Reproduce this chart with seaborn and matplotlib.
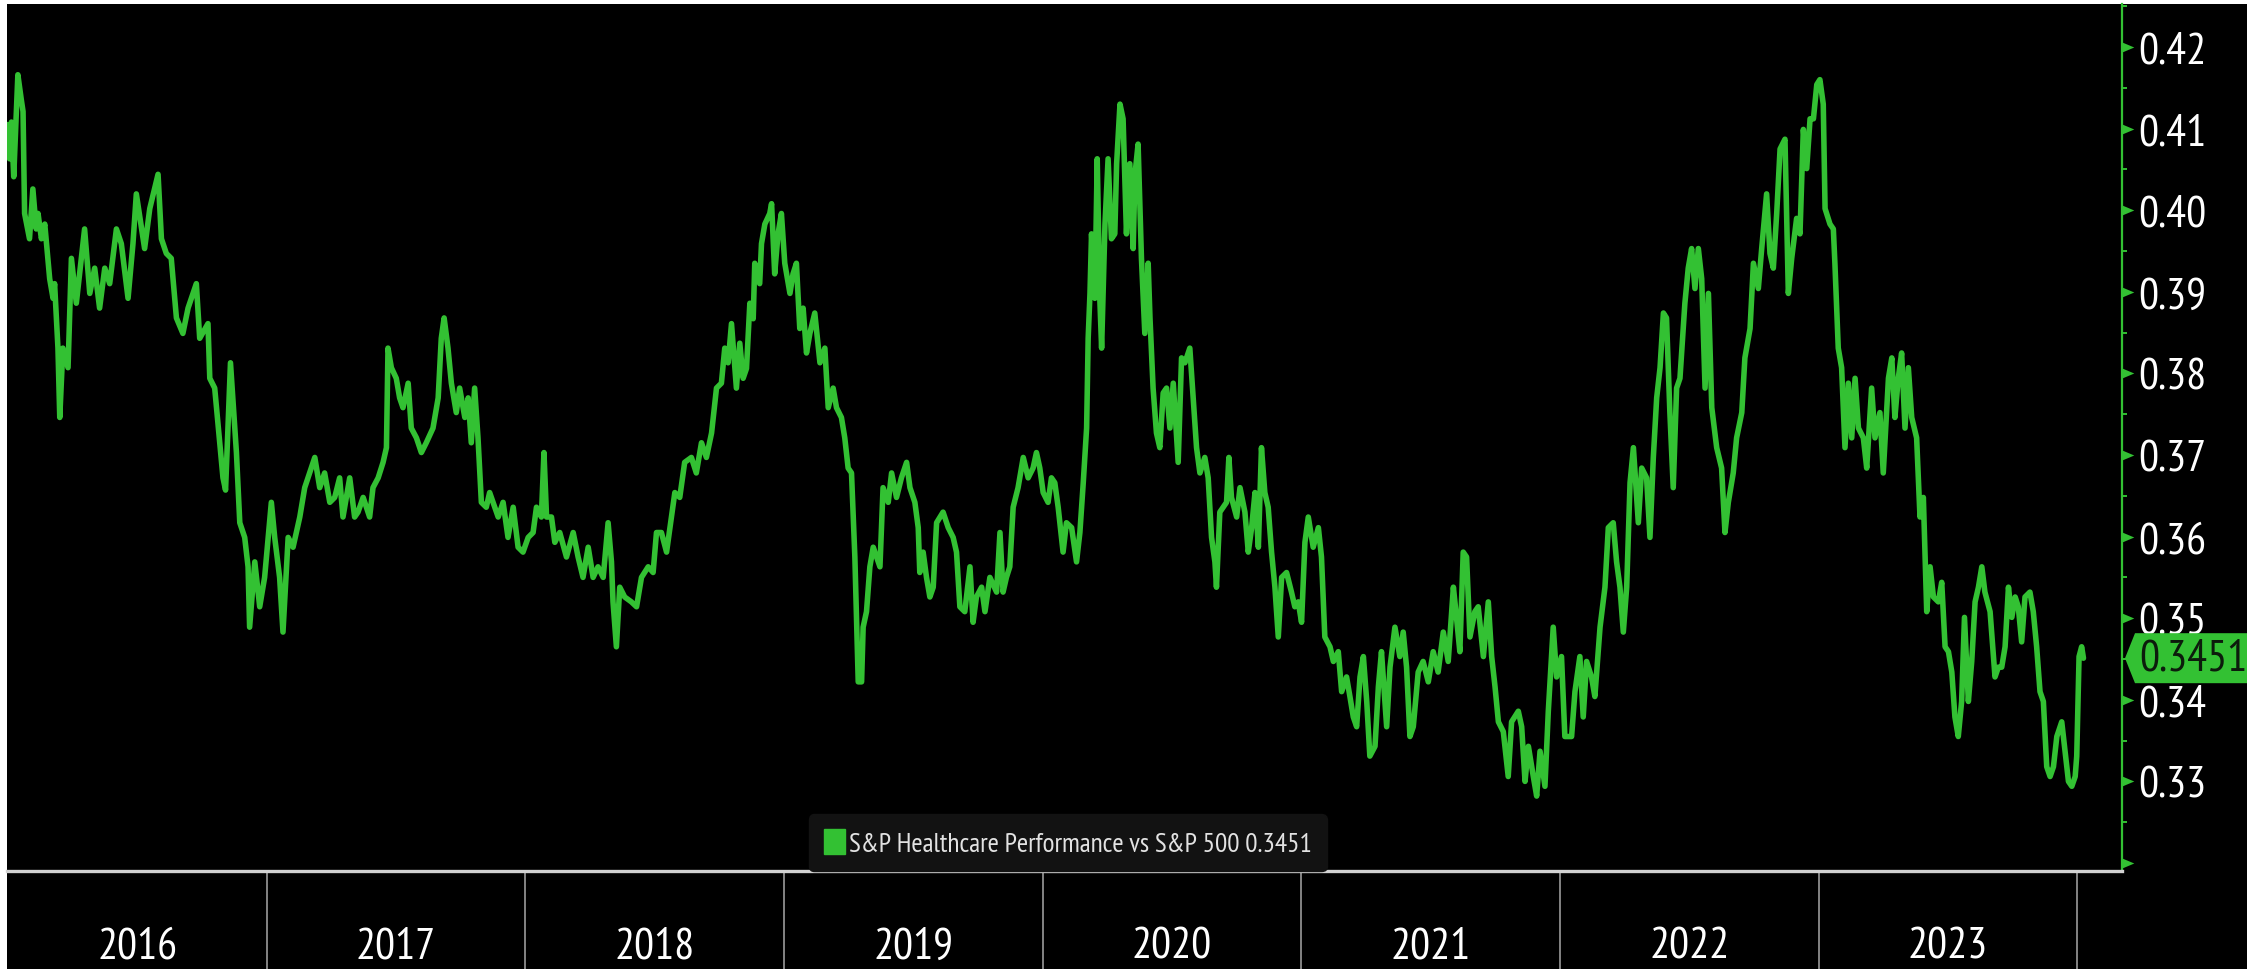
import numpy as np
import pandas as pd
import matplotlib
matplotlib.use("Agg")
import matplotlib.pyplot as plt
import seaborn as sns
from matplotlib import font_manager as fm
from matplotlib.patches import Patch, Polygon, Rectangle
from matplotlib.path import Path
import matplotlib.transforms as mtransforms

# ---------------- data (decimal year, ratio) ----------------
t1 = [2015.996, 2016.006, 2016.013, 2016.022, 2016.038, 2016.051, 2016.058, 2016.064, 2016.083, 2016.096,
      2016.109, 2016.116, 2016.129, 2016.142, 2016.161, 2016.174, 2016.180, 2016.193, 2016.200, 2016.212,
      2016.232, 2016.245, 2016.264, 2016.296, 2016.316, 2016.335, 2016.354, 2016.374, 2016.393, 2016.419,
      2016.438, 2016.464, 2016.483, 2016.496, 2016.528, 2016.548, 2016.580, 2016.593, 2016.612, 2016.631,
      2016.651, 2016.676, 2016.696, 2016.728, 2016.741, 2016.773, 2016.780, 2016.799, 2016.831, 2016.841,
      2016.860, 2016.883, 2016.896, 2016.915, 2016.928, 2016.934, 2016.954, 2016.973, 2016.992, 2017.018,
      2017.031, 2017.050, 2017.063, 2017.083, 2017.102, 2017.128, 2017.147, 2017.186, 2017.205, 2017.224,
      2017.244, 2017.263, 2017.282, 2017.295, 2017.321, 2017.340]
v1 = [0.4105, 0.4063, 0.4108, 0.4041, 0.4166, 0.4136, 0.4121, 0.3996, 0.3965, 0.4026,
      0.3977, 0.3996, 0.3965, 0.3983, 0.3916, 0.3892, 0.3910, 0.3831, 0.3746, 0.3831,
      0.3807, 0.3941, 0.3886, 0.3977, 0.3898, 0.3929, 0.3880, 0.3929, 0.3910, 0.3977,
      0.3959, 0.3892, 0.3959, 0.4020, 0.3953, 0.4002, 0.4044, 0.3965, 0.3947, 0.3941,
      0.3868, 0.3849, 0.3880, 0.3910, 0.3843, 0.3861, 0.3794, 0.3782, 0.3672, 0.3657,
      0.3813, 0.3703, 0.3617, 0.3599, 0.3563, 0.3489, 0.3569, 0.3514, 0.3550, 0.3642,
      0.3599, 0.3550, 0.3483, 0.3599, 0.3587, 0.3624, 0.3660, 0.3697, 0.3660, 0.3678,
      0.3642, 0.3648, 0.3672, 0.3624, 0.3672, 0.3624]

t2 = [2017.353, 2017.373, 2017.398, 2017.411, 2017.431, 2017.450, 2017.463, 2017.469, 2017.482, 2017.501,
      2017.514, 2017.527, 2017.547, 2017.559, 2017.579, 2017.598, 2017.617, 2017.643, 2017.663, 2017.675,
      2017.686, 2017.701, 2017.714, 2017.733, 2017.746, 2017.766, 2017.779, 2017.791, 2017.804, 2017.817,
      2017.830, 2017.849, 2017.862, 2017.882, 2017.895, 2017.914, 2017.933, 2017.953, 2017.972, 2017.991,
      2018.011, 2018.030, 2018.043, 2018.062, 2018.072, 2018.082, 2018.101, 2018.114, 2018.133, 2018.159,
      2018.185, 2018.204, 2018.223, 2018.243, 2018.262, 2018.281, 2018.301, 2018.320, 2018.333, 2018.339,
      2018.352, 2018.365, 2018.384, 2018.410, 2018.430, 2018.449, 2018.475, 2018.494, 2018.507, 2018.526,
      2018.546, 2018.565, 2018.578, 2018.597, 2018.616, 2018.642, 2018.661, 2018.681, 2018.700, 2018.720]
v2 = [0.3630, 0.3648, 0.3624, 0.3660, 0.3672, 0.3691, 0.3709, 0.3831, 0.3807, 0.3794,
      0.3770, 0.3758, 0.3788, 0.3733, 0.3721, 0.3703, 0.3715, 0.3733, 0.3770, 0.3843,
      0.3868, 0.3831, 0.3788, 0.3752, 0.3782, 0.3746, 0.3770, 0.3715, 0.3782, 0.3721,
      0.3642, 0.3636, 0.3654, 0.3636, 0.3624, 0.3642, 0.3599, 0.3636, 0.3587, 0.3581,
      0.3599, 0.3605, 0.3636, 0.3624, 0.3703, 0.3624, 0.3624, 0.3593, 0.3605, 0.3575,
      0.3605, 0.3575, 0.3550, 0.3587, 0.3550, 0.3563, 0.3550, 0.3617, 0.3569, 0.3520,
      0.3465, 0.3538, 0.3526, 0.3520, 0.3514, 0.3550, 0.3563, 0.3556, 0.3605, 0.3605,
      0.3581, 0.3624, 0.3654, 0.3648, 0.3691, 0.3697, 0.3678, 0.3715, 0.3697, 0.3727]

t3 = [2018.739, 2018.758, 2018.771, 2018.784, 2018.797, 2018.810, 2018.816, 2018.829, 2018.842, 2018.855,
      2018.868, 2018.881, 2018.887, 2018.906, 2018.913, 2018.926, 2018.945, 2018.952, 2018.964, 2018.977,
      2018.990, 2019.003, 2019.023, 2019.035, 2019.048, 2019.061, 2019.074, 2019.087, 2019.100, 2019.119,
      2019.139, 2019.158, 2019.171, 2019.190, 2019.203, 2019.222, 2019.235, 2019.248, 2019.261, 2019.274,
      2019.287, 2019.300, 2019.306, 2019.319, 2019.332, 2019.345, 2019.358, 2019.371, 2019.383, 2019.403,
      2019.416, 2019.435, 2019.454, 2019.474, 2019.487, 2019.506, 2019.519, 2019.525, 2019.538, 2019.551,
      2019.564, 2019.577, 2019.590, 2019.615, 2019.635, 2019.654, 2019.667, 2019.680, 2019.699, 2019.719,
      2019.731, 2019.744, 2019.764, 2019.777, 2019.796, 2019.822, 2019.835, 2019.847, 2019.860, 2019.873,
      2019.886, 2019.905, 2019.925, 2019.944, 2019.963, 2019.976, 2019.989, 2020.002, 2020.021, 2020.034,
      2020.047, 2020.060, 2020.079, 2020.092]
v3 = [0.3782, 0.3788, 0.3831, 0.3813, 0.3861, 0.3806, 0.3782, 0.3837, 0.3794, 0.3806,
      0.3886, 0.3867, 0.3935, 0.3910, 0.3959, 0.3983, 0.3996, 0.4008, 0.3922, 0.3971,
      0.3996, 0.3935, 0.3898, 0.3922, 0.3935, 0.3855, 0.3880, 0.3825, 0.3849, 0.3874,
      0.3813, 0.3831, 0.3758, 0.3782, 0.3758, 0.3746, 0.3721, 0.3684, 0.3678, 0.3575,
      0.3422, 0.3422, 0.3489, 0.3508, 0.3563, 0.3587, 0.3575, 0.3563, 0.3660, 0.3642,
      0.3678, 0.3648, 0.3672, 0.3691, 0.3660, 0.3642, 0.3611, 0.3556, 0.3581, 0.3550,
      0.3526, 0.3538, 0.3617, 0.3630, 0.3611, 0.3599, 0.3581, 0.3514, 0.3508, 0.3563,
      0.3495, 0.3526, 0.3538, 0.3508, 0.3550, 0.3532, 0.3605, 0.3532, 0.3550, 0.3563,
      0.3636, 0.3660, 0.3697, 0.3672, 0.3684, 0.3703, 0.3684, 0.3654, 0.3642, 0.3672,
      0.3666, 0.3636, 0.3581, 0.3617]

t4 = [2020.112, 2020.131, 2020.144, 2020.157, 2020.170, 2020.176, 2020.183, 2020.189, 2020.202, 2020.211,
      2020.221, 2020.228, 2020.241, 2020.253, 2020.266, 2020.279, 2020.286, 2020.299, 2020.311, 2020.324,
      2020.337, 2020.350, 2020.357, 2020.369, 2020.382, 2020.395, 2020.408, 2020.415, 2020.427, 2020.440,
      2020.453, 2020.466, 2020.479, 2020.492, 2020.505, 2020.524, 2020.537, 2020.550, 2020.569, 2020.582,
      2020.595, 2020.608, 2020.627, 2020.640, 2020.653, 2020.666, 2020.672, 2020.685, 2020.711, 2020.720,
      2020.730, 2020.750, 2020.763, 2020.782, 2020.795, 2020.808, 2020.821, 2020.834, 2020.846, 2020.859,
      2020.872, 2020.885, 2020.898, 2020.911, 2020.924, 2020.943, 2020.962, 2020.975, 2020.988, 2021.001,
      2021.014, 2021.027, 2021.046, 2021.066, 2021.078, 2021.091, 2021.111, 2021.124, 2021.143, 2021.156,
      2021.175, 2021.188, 2021.201, 2021.214, 2021.227, 2021.240, 2021.253, 2021.265, 2021.285, 2021.298,
      2021.310, 2021.330, 2021.343, 2021.362, 2021.381, 2021.394, 2021.407, 2021.420, 2021.433, 2021.452]
v4 = [0.3611, 0.3569, 0.3605, 0.3666, 0.3733, 0.3843, 0.3898, 0.3971, 0.3892, 0.4063,
      0.3892, 0.3831, 0.3983, 0.4063, 0.3965, 0.3971, 0.4057, 0.4130, 0.4112, 0.3971,
      0.4057, 0.3953, 0.4044, 0.4081, 0.3941, 0.3849, 0.3935, 0.3868, 0.3782, 0.3727,
      0.3709, 0.3776, 0.3782, 0.3733, 0.3788, 0.3691, 0.3819, 0.3813, 0.3831, 0.3770,
      0.3709, 0.3678, 0.3697, 0.3672, 0.3599, 0.3569, 0.3538, 0.3630, 0.3642, 0.3697,
      0.3648, 0.3624, 0.3660, 0.3630, 0.3581, 0.3611, 0.3654, 0.3587, 0.3709, 0.3654,
      0.3636, 0.3581, 0.3538, 0.3477, 0.3550, 0.3556, 0.3532, 0.3514, 0.3520, 0.3495,
      0.3593, 0.3624, 0.3587, 0.3611, 0.3575, 0.3477, 0.3465, 0.3447, 0.3459, 0.3410,
      0.3428, 0.3404, 0.3379, 0.3367, 0.3428, 0.3453, 0.3398, 0.3331, 0.3343, 0.3416,
      0.3459, 0.3367, 0.3440, 0.3489, 0.3453, 0.3483, 0.3440, 0.3355, 0.3367, 0.3434]

t5 = [2021.471, 2021.491, 2021.510, 2021.529, 2021.549, 2021.568, 2021.588, 2021.600, 2021.613, 2021.626,
      2021.639, 2021.652, 2021.671, 2021.684, 2021.704, 2021.723, 2021.736, 2021.749, 2021.762, 2021.781,
      2021.800, 2021.813, 2021.839, 2021.852, 2021.865, 2021.878, 2021.897, 2021.910, 2021.923, 2021.942,
      2021.955, 2021.974, 2021.987, 2022.006, 2022.019, 2022.045, 2022.058, 2022.077, 2022.090, 2022.103,
      2022.122, 2022.135, 2022.155, 2022.174, 2022.187, 2022.206, 2022.219, 2022.232, 2022.245, 2022.258,
      2022.271, 2022.284, 2022.303, 2022.316, 2022.335, 2022.348, 2022.361, 2022.374, 2022.387, 2022.400,
      2022.412, 2022.425, 2022.438, 2022.451, 2022.464, 2022.483, 2022.496, 2022.509, 2022.522, 2022.535,
      2022.548, 2022.561, 2022.574, 2022.587, 2022.606, 2022.625, 2022.638, 2022.651, 2022.670, 2022.683,
      2022.703, 2022.715, 2022.735, 2022.748, 2022.767, 2022.780, 2022.799, 2022.812, 2022.825, 2022.838]
v5 = [0.3447, 0.3422, 0.3459, 0.3434, 0.3483, 0.3447, 0.3538, 0.3501, 0.3459, 0.3581,
      0.3575, 0.3477, 0.3508, 0.3514, 0.3453, 0.3520, 0.3453, 0.3416, 0.3373, 0.3361,
      0.3306, 0.3373, 0.3386, 0.3367, 0.3300, 0.3343, 0.3306, 0.3282, 0.3337, 0.3294,
      0.3386, 0.3489, 0.3428, 0.3453, 0.3355, 0.3355, 0.3410, 0.3453, 0.3379, 0.3447,
      0.3428, 0.3404, 0.3489, 0.3538, 0.3611, 0.3617, 0.3569, 0.3538, 0.3483, 0.3538,
      0.3666, 0.3709, 0.3617, 0.3684, 0.3672, 0.3599, 0.3697, 0.3770, 0.3807, 0.3874,
      0.3868, 0.3752, 0.3660, 0.3782, 0.3794, 0.3886, 0.3929, 0.3953, 0.3904, 0.3953,
      0.3916, 0.3782, 0.3898, 0.3758, 0.3709, 0.3684, 0.3605, 0.3642, 0.3678, 0.3721,
      0.3752, 0.3819, 0.3855, 0.3935, 0.3904, 0.3953, 0.4020, 0.3947, 0.3929, 0.3996]

t6 = [2022.851, 2022.870, 2022.883, 2022.896, 2022.915, 2022.928, 2022.941, 2022.954, 2022.967, 2022.980,
      2022.993, 2023.005, 2023.018, 2023.025, 2023.044, 2023.057, 2023.063, 2023.076, 2023.089, 2023.102,
      2023.115, 2023.128, 2023.141, 2023.154, 2023.173, 2023.186, 2023.205, 2023.218, 2023.237, 2023.250,
      2023.270, 2023.283, 2023.295, 2023.308, 2023.321, 2023.334, 2023.347, 2023.360, 2023.379, 2023.392,
      2023.405, 2023.418, 2023.431, 2023.444, 2023.463, 2023.476, 2023.489, 2023.502, 2023.515, 2023.527,
      2023.540, 2023.553, 2023.564, 2023.579, 2023.592, 2023.605, 2023.618, 2023.631, 2023.643, 2023.663,
      2023.682, 2023.695, 2023.708, 2023.721, 2023.734, 2023.747, 2023.760, 2023.772, 2023.785, 2023.798,
      2023.817, 2023.830, 2023.843, 2023.856, 2023.869, 2023.882, 2023.895, 2023.908, 2023.921, 2023.940,
      2023.953, 2023.966, 2023.979, 2023.992, 2023.998, 2024.007, 2024.017, 2024.024]
v6 = [0.4075, 0.4087, 0.3898, 0.3941, 0.3990, 0.3971, 0.4099, 0.4051, 0.4112, 0.4112,
      0.4154, 0.4160, 0.4130, 0.4002, 0.3983, 0.3977, 0.3935, 0.3831, 0.3807, 0.3709,
      0.3788, 0.3721, 0.3794, 0.3733, 0.3721, 0.3684, 0.3782, 0.3721, 0.3752, 0.3678,
      0.3794, 0.3819, 0.3746, 0.3794, 0.3825, 0.3733, 0.3807, 0.3746, 0.3721, 0.3624,
      0.3648, 0.3508, 0.3563, 0.3526, 0.3520, 0.3544, 0.3465, 0.3459, 0.3434, 0.3379,
      0.3355, 0.3398, 0.3501, 0.3398, 0.3447, 0.3520, 0.3538, 0.3563, 0.3532, 0.3508,
      0.3428, 0.3440, 0.3440, 0.3465, 0.3538, 0.3501, 0.3526, 0.3514, 0.3471, 0.3526,
      0.3532, 0.3508, 0.3465, 0.3410, 0.3398, 0.3318, 0.3306, 0.3318, 0.3355, 0.3373,
      0.3337, 0.3300, 0.3294, 0.3306, 0.3331, 0.3453, 0.3465, 0.3451]

series_label = "S&P Healthcare Performance vs S&P 500"
last_value = 0.3451
year_labels = ["2016", "2017", "2018", "2019", "2020", "2021", "2022", "2023"]
year_starts = [2016, 2017, 2018, 2019, 2020, 2021, 2022, 2023]
separator_years = [2017, 2018, 2019, 2020, 2021, 2022, 2023, 2024]
y_ticks = [0.32, 0.33, 0.34, 0.35, 0.36, 0.37, 0.38, 0.39, 0.40, 0.41, 0.42]
y_tick_labels = ["", "0.33", "0.34", "0.35", "0.36", "0.37", "0.38", "0.39", "0.40", "0.41", "0.42"]
y_minor_ticks = [0.325, 0.335, 0.345, 0.355, 0.365, 0.375, 0.385, 0.395, 0.405, 0.415, 0.425]
quarter_ticks = [2016 + q / 4 for q in range(33)]

# ---------------- style ----------------
GREEN = "#33c133"
AXIS_GREY = "#d2d2d2"

sns.set_theme(style="dark")
names = {f.name for f in fm.fontManager.ttflist}
FONT = "DejaVu Sans"
for cand in ["PT Sans Narrow", "Roboto Condensed", "Archivo Narrow", "Open Sans Condensed"]:
    if cand in names:
        FONT = cand
        break
plt.rcParams["font.family"] = [FONT, "DejaVu Sans"]

W, H = 2260, 970
fig = plt.figure(figsize=(W / 100, H / 100), dpi=100, facecolor="white")
fig.add_artist(Rectangle((7 / W, 0), (2247 - 7) / W, (H - 5) / H, transform=fig.transFigure,
                         facecolor="black", edgecolor="none", zorder=-10))
renderer = fig.canvas.get_renderer()


def fit_size(sample, target_px, base=30.0):
    t = fig.text(0, 0, sample, fontsize=base)
    w = t.get_window_extent(renderer).width
    t.remove()
    return base * target_px / w


TICK_FS = fit_size("0.42", 68)
LEG_FS = fit_size(f"{series_label} {last_value:.4f}", 464)

AX_L, AX_R, AX_T, AX_B = 7, 2122, 5, 872
ax = fig.add_axes([AX_L / W, (H - AX_B) / H, (AX_R - AX_L) / W, (AX_B - AX_T) / H])
ax.set_facecolor("black")

df = pd.DataFrame({"date": t1 + t2 + t3 + t4 + t5 + t6, "ratio": v1 + v2 + v3 + v4 + v5 + v6})
sns.lineplot(data=df, x="date", y="ratio", ax=ax, color=GREEN, lw=4.0,
             sort=False, estimator=None, legend=False)

ax.set_xlim(df["date"].iloc[0], 2024.173)
ax.set_ylim(0.31902, 0.42527)
ax.set_xlabel("")
ax.set_ylabel("")
ax.grid(False)

for s in ["top", "left"]:
    ax.spines[s].set_visible(False)
ax.spines["right"].set_color(GREEN)
ax.spines["right"].set_linewidth(1.6)
ax.spines["bottom"].set_color(AXIS_GREY)
ax.spines["bottom"].set_linewidth(2.4)

# x: quarterly ticks, year separators and labels
ax.set_xticks(quarter_ticks)
ax.tick_params(axis="x", which="major", direction="out", length=9, width=1.4,
               color=AXIS_GREY, labelbottom=False)
axes_h = AX_B - AX_T
xblend = mtransforms.blended_transform_factory(ax.transData, ax.transAxes)
ax.vlines(separator_years, -(H - AX_B) / axes_h, 0, transform=xblend,
          colors="#a8a8a8", lw=1.1, clip_on=False)
for ys, lab in zip(year_starts, year_labels):
    ax.text(ys + 0.5, -(948 - AX_B) / axes_h, lab, transform=xblend, ha="center", va="center",
            color="white", fontsize=TICK_FS)

# y: right side
ax.yaxis.tick_right()
ax.set_yticks(y_ticks)
ax.set_yticklabels(y_tick_labels)
ax.set_yticks(y_minor_ticks, minor=True)
ax.tick_params(axis="y", which="major", length=0, pad=11.5, labelsize=TICK_FS, labelcolor="white")
ax.tick_params(axis="y", which="minor", direction="out", length=3.6, width=1.4, color=GREEN)
tri = Path([(0, -0.42), (1, 0), (0, 0.42), (0, -0.42)],
           [Path.MOVETO, Path.LINETO, Path.LINETO, Path.CLOSEPOLY])
yblend = mtransforms.blended_transform_factory(ax.transAxes, ax.transData)
ax.plot([1.0] * len(y_ticks), y_ticks, transform=yblend, ls="none", marker=tri, ms=17,
        color=GREEN, mew=0, clip_on=False)

# legend
fs_px = LEG_FS * 100 / 72
handle = Patch(facecolor=GREEN, edgecolor=GREEN)
leg = ax.legend([handle], [f"{series_label} {last_value:.4f}"], loc="lower left",
                bbox_to_anchor=((809 - AX_L) / (AX_R - AX_L), 0.0), borderaxespad=0,
                frameon=True, facecolor="#121212", edgecolor="#121212", framealpha=1,
                fontsize=LEG_FS, labelcolor="#e2e2e2", handlelength=21 / fs_px,
                handleheight=28 / fs_px, handletextpad=4 / fs_px, borderpad=15 / fs_px,
                fancybox=True)

# last value marker on the axis
ax.set_ylim(0.31902, 0.42527)
ypix = ax.transData.transform((2024.0, last_value))[1]
x0 = ax.transAxes.transform((1.0, 0))[0]
poly = Polygon([(x0 + 3, ypix), (x0 + 13, ypix + 25), (2247, ypix + 25), (2247, ypix - 25),
                (x0 + 13, ypix - 25)], closed=True, transform=mtransforms.IdentityTransform(),
               facecolor=GREEN, edgecolor="none", zorder=20)
fig.add_artist(poly)
fig.text(2139, ypix, f"{last_value:.4f}", transform=mtransforms.IdentityTransform(),
         ha="left", va="center", fontsize=TICK_FS, color="#0c1c0c", zorder=21)

fig.savefig("out.png", dpi=100, facecolor="white")
